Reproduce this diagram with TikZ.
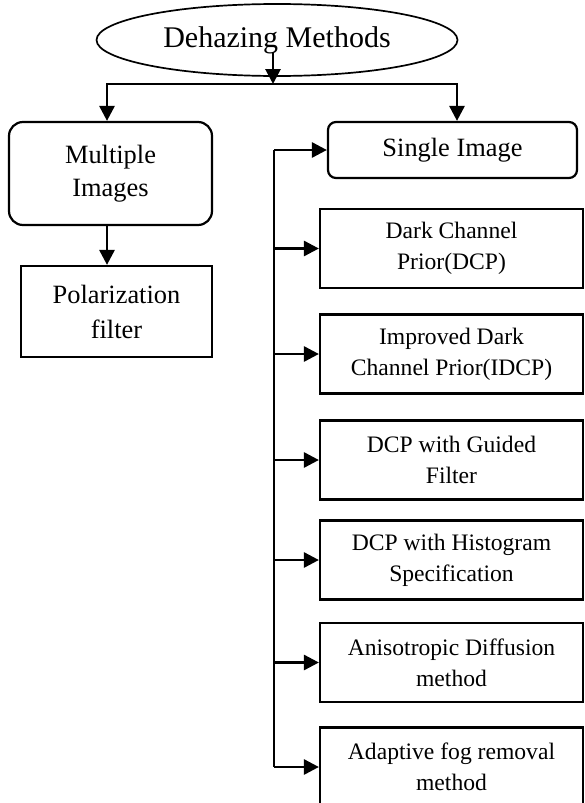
\documentclass[tikz,border=0pt]{standalone}
\usepackage{fontspec}
\setmainfont{Liberation Serif}
\usetikzlibrary{arrows.meta, shapes.geometric}

\begin{document}
\begin{tikzpicture}[x=0.5pt, y=-0.5pt, >={Triangle[length=7.5pt, width=7.5pt]}, line width=1.4pt,
      root/.style={ellipse, draw, line width=0.85pt, minimum width=180.5pt, minimum height=36pt,
                   inner sep=0pt, font=\fontsize{15}{18}\selectfont},
      grp/.style={draw, rounded corners=#1, line width=1.1pt, inner sep=0pt, align=center,
                  font=\fontsize{13.2}{16.5}\selectfont},
      leaf/.style={draw, line width=1.1pt, inner sep=0pt, align=center,
                   font=\fontsize{13.2}{17.5}\selectfont},
      meth/.style={draw, line width=1.1pt, minimum width=131.5pt, minimum height=39.5pt,
                   inner sep=0pt, align=center, font=\fontsize{11.8}{15.5}\selectfont}]

    \useasboundingbox (0,0) rectangle (584,803);

    % Root and the two classes
    \node[root] (dehaze) at (277,40) {Dehazing Methods};
    \node[grp=7pt, minimum width=101.5pt, minimum height=51.5pt] (multi)  at (110.5,173.5) {Multiple\\Images};
    \node[grp=4pt, minimum width=124.5pt, minimum height=28pt]   (single) at (452.5,150)   {Single Image};
    \node[leaf, minimum width=95.5pt, minimum height=45.5pt]     (polar)  at (116.5,311.5) {Polarization\\filter};

    % Single image methods
    \node[meth] (dcp)    at (451.5,248.5) {Dark Channel\\Prior(DCP)};
    \node[meth] (idcp)   at (451.5,354)   {Improved Dark\\Channel Prior(IDCP)};
    \node[meth] (guided) at (451.5,460)   {DCP with Guided\\Filter};
    \node[meth] (hist)   at (451.5,560)   {DCP with Histogram\\Specification};
    \node[meth] (aniso)  at (451.5,662.5) {Anisotropic Diffusion\\method};
    \node[meth] (adapt)  at (451.5,767)   {Adaptive fog removal\\method};

    % Connectors
    \coordinate (stem)  at (273,52);
    \coordinate (split) at (273,84);
    \coordinate (trunk) at (274,0);

    \draw[->] (stem) -- (split);
    \draw[->] (split) -| ([xshift=-1.75pt]multi.north);
    \draw[->] (split) -| ([xshift=2.25pt]single.north);
    \draw[->] ([xshift=-1.75pt]multi.south) -- ([xshift=-1.75pt]multi.south |- polar.north);

    \draw (trunk |- single.west) -- (trunk |- adapt.west);
    \draw[->] (trunk |- single.west) -- (single.west);
    \foreach \m in {dcp, idcp, guided, hist, aniso, adapt}
        \draw[->] (trunk |- \m.west) -- (\m.west);

\end{tikzpicture}
\end{document}
